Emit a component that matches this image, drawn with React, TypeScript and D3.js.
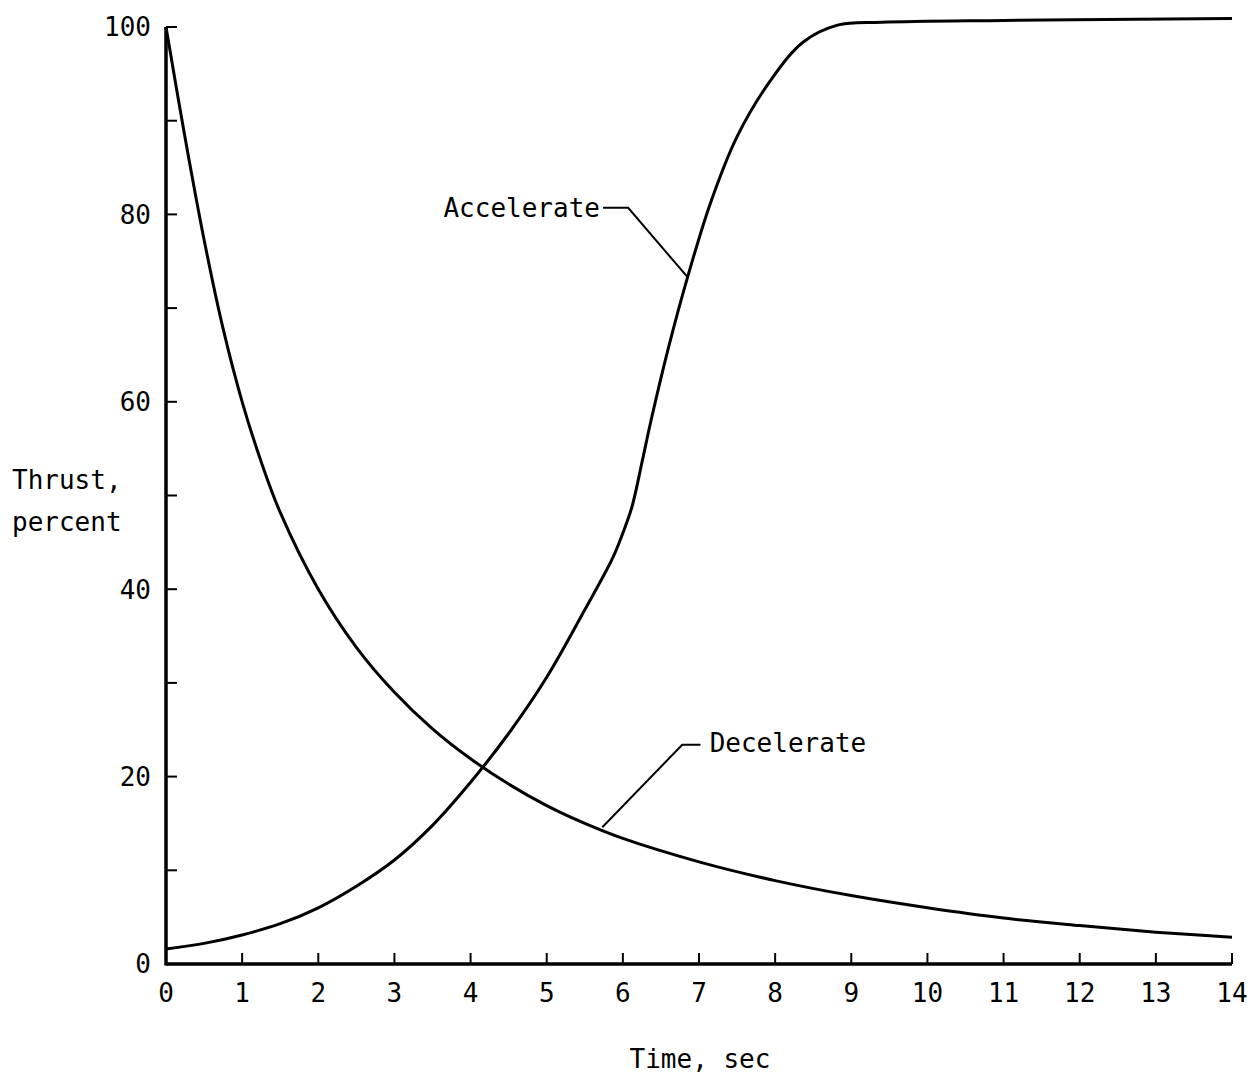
import React from 'react';
import * as d3 from 'd3';

// Accelerate curve: time (sec) / thrust (percent)
const accelTime = [0, 0.5, 1, 1.5, 2, 2.5, 3, 3.5, 4, 4.5, 5, 5.5, 5.87, 6, 6.12, 6.25, 6.37, 6.6, 6.85, 7.15, 7.5, 7.94, 8.37, 8.82, 9.4, 11, 14];
const accelThrust = [1.6, 2.2, 3.1, 4.3, 6.0, 8.3, 11.1, 14.8, 19.4, 24.6, 30.6, 37.8, 43.4, 46.0, 48.8, 53.5, 58.0, 65.8, 73.3, 81.2, 88.3, 94.3, 98.4, 100.2, 100.5, 100.7, 100.9];

// Decelerate curve
const decelTime = [0, 0.25, 0.5, 0.75, 1.0, 1.25, 1.5, 2, 2.5, 3, 3.5, 4, 4.5, 5, 5.5, 6, 7, 8, 9, 10, 11, 12, 13, 14];
const decelThrust = [100, 88.2, 77.3, 67.8, 60.0, 53.6, 48.2, 40.0, 33.8, 29.0, 25.1, 21.9, 19.2, 16.9, 15, 13.4, 10.9, 8.9, 7.3, 6.0, 4.9, 4.1, 3.4, 2.85];

const xTicks = d3.range(0, 15);
const yMinorTicks = d3.range(0, 101, 10);
const yLabels = [0, 20, 40, 60, 80, 100];

// leader lines, in data units [time, thrust]
const accelLeader = [[5.74, 80.7], [6.07, 80.7], [6.85, 73.3]];
const decelLeader = [[5.73, 14.6], [6.78, 23.4], [7.02, 23.4]];

const W = 1255;
const H = 1080;
const font = '"DejaVu Sans Mono", monospace';

export default function App() {
  const x = d3.scaleLinear().domain([0, 14]).range([166, 1232]);
  const y = d3.scaleLinear().domain([0, 100]).range([964, 27]);

  const lineFn = d3.line<number[]>()
    .x(d => x(d[0]))
    .y(d => y(d[1]))
    .curve(d3.curveCatmullRom.alpha(0.5));
  const straight = d3.line<number[]>().x(d => x(d[0])).y(d => y(d[1]));

  const accel = accelTime.map((t, i) => [t, accelThrust[i]]);
  const decel = decelTime.map((t, i) => [t, decelThrust[i]]);

  return (
    <svg width={W} height={H} style={{ position: 'absolute', left: 0, top: 0, background: '#fff' }}>
      {/* axes */}
      <line x1={x(0)} x2={x(0)} y1={y(0) + 1.5} y2={y(100)} stroke="#000" strokeWidth={3.5} />
      <line x1={x(0)} x2={x(14)} y1={y(0)} y2={y(0)} stroke="#000" strokeWidth={3.5} />
      {yMinorTicks.map(v => (
        <line key={'yt' + v} x1={x(0)} x2={x(0) + 11} y1={y(v)} y2={y(v)} stroke="#000" strokeWidth={2} />
      ))}
      {xTicks.map(t => (
        <line key={'xt' + t} x1={x(t)} x2={x(t)} y1={y(0)} y2={y(0) - 11} stroke="#000" strokeWidth={2} />
      ))}
      {yLabels.map(v => (
        <text key={'yl' + v} x={x(0) - 15} y={y(v)} dy="0.36em" textAnchor="end"
          fontFamily={font} fontSize={26}>{v}</text>
      ))}
      {xTicks.map(t => (
        <text key={'xl' + t} x={x(t)} y={1002} textAnchor="middle"
          fontFamily={font} fontSize={26}>{t}</text>
      ))}

      {/* axis titles */}
      <text x={12} y={489} fontFamily={font} fontSize={26}>Thrust,</text>
      <text x={12} y={531} fontFamily={font} fontSize={26}>percent</text>
      <text x={700} y={1068} textAnchor="middle" fontFamily={font} fontSize={26}>Time, sec</text>

      {/* curves */}
      <path d={lineFn(accel) || ''} fill="none" stroke="#000" strokeWidth={3} />
      <path d={lineFn(decel) || ''} fill="none" stroke="#000" strokeWidth={3} />

      {/* labels */}
      <path d={straight(accelLeader) || ''} fill="none" stroke="#000" strokeWidth={2} />
      <text x={x(5.7)} y={y(80.7)} dy="0.36em" textAnchor="end" fontFamily={font} fontSize={26}>Accelerate</text>
      <path d={straight(decelLeader) || ''} fill="none" stroke="#000" strokeWidth={2} />
      <text x={x(7.14)} y={y(23.6)} dy="0.36em" fontFamily={font} fontSize={26}>Decelerate</text>
    </svg>
  );
}
